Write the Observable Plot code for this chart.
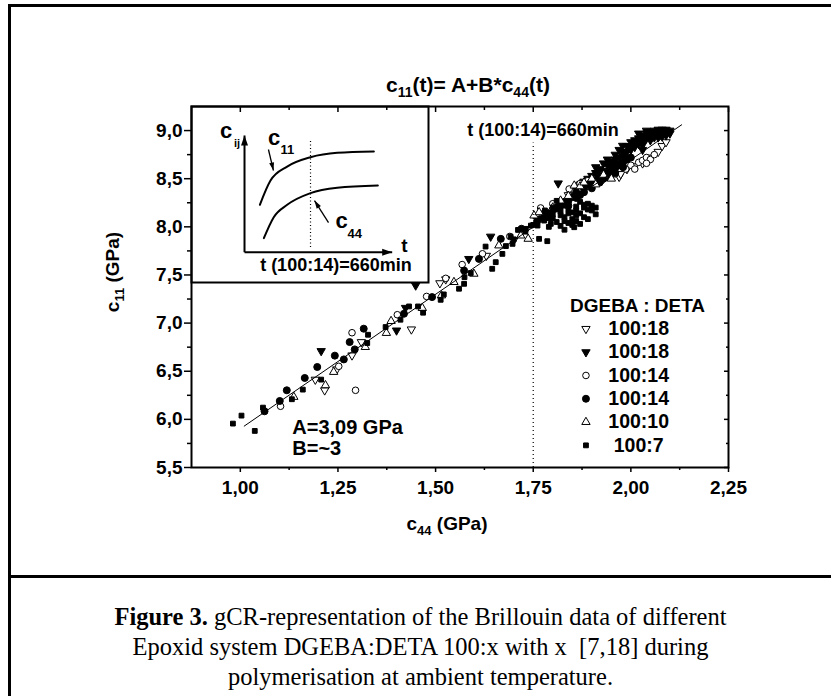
<!DOCTYPE html>
<html><head><meta charset="utf-8">
<script src="https://cdn.jsdelivr.net/npm/d3@7"></script>
<script src="https://cdn.jsdelivr.net/npm/@observablehq/plot@0.6"></script>
<style>
html,body{margin:0;padding:0;background:#fff;}
#wrap{position:relative;width:831px;height:696px;overflow:hidden;background:#fff;}
#chart{position:absolute;left:0;top:0;}
.bl{position:absolute;background:#000;}
#caption{position:absolute;left:10px;width:821px;top:602px;text-align:center;font-family:"Liberation Serif","Times New Roman",serif;font-size:24.5px;line-height:30px;color:#000;}
</style></head><body>
<div id="wrap"><div id="chart"></div>
<div class="bl" style="left:8px;top:4px;width:3px;height:700px"></div>
<div class="bl" style="left:8px;top:4px;width:830px;height:3px"></div>
<div class="bl" style="left:8px;top:575px;width:830px;height:3px"></div>
<div id="caption"><b>Figure 3.</b> gCR-representation of the Brillouin data of different<br>Epoxid system DGEBA:DETA 100:x with x&nbsp; [7,18] during<br>polymerisation at ambient temperature.</div>
</div>
<script>
// ---------- data ----------
// 100:18 open down-triangles
const c44_18o = [1.192,1.216,1.247,1.286,1.310,1.438,1.511,1.526,1.63,1.70,1.76,1.81,1.84,1.87,1.90,1.93,1.95,1.97,1.974,1.99,2.01,2.03,2.05,2.07,2.08,2.09];
const c11_18o = [6.413,6.302,6.520,6.665,6.803,6.935,7.415,7.455,7.70,7.86,8.08,8.22,8.33,8.40,8.46,8.50,8.55,8.52,8.549,8.60,8.63,8.66,8.72,8.78,8.84,8.88];
// 100:18 filled down-triangles
const c44_18f = [1.207,1.400,1.423,1.449,1.585,1.641,1.814,1.86,1.88,1.90,1.91,1.92,1.93,1.94,1.95,1.95,1.96,1.97,1.979,1.98,1.99,2.00,2.00,2.01,2.02,2.02,2.03,2.03,2.04,2.04,2.05,2.05,2.06,2.06,2.07,2.07,2.08,2.08,2.09,2.09,2.10,2.10,2.07,2.05,2.03,2.01,1.99,1.91,1.94,1.96,1.97,1.98,2.00,2.01,2.02,2.04,2.06,2.08,2.09,2.03,1.99,1.96,1.93,1.89,1.87];
const c11_18f = [6.710,6.924,7.159,7.391,7.667,7.899,8.452,8.40,8.47,8.53,8.56,8.60,8.58,8.64,8.62,8.68,8.66,8.72,8.843,8.74,8.78,8.80,8.88,8.83,8.86,8.92,8.89,8.95,8.92,8.97,8.94,8.99,8.96,9.00,8.97,9.01,8.98,9.01,8.99,8.95,9.00,8.97,8.93,8.90,8.85,8.87,8.84,8.62,8.70,8.75,8.80,8.78,8.84,8.90,8.97,9.00,8.93,8.94,9.01,8.80,8.72,8.70,8.66,8.50,8.44];
// 100:14 open circles
const c44_14o = [1.103,1.252,1.286,1.295,1.402,1.477,1.526,1.568,1.62,1.69,1.769,1.80,1.842,1.87,1.89,1.92,1.94,1.96,1.98,1.987,2.00,2.01,2.02,2.03,2.04,2.05,2.06,2.04];
const c11_14o = [6.136,6.551,6.900,6.302,7.087,7.277,7.465,7.608,7.72,7.90,8.196,8.24,8.393,8.45,8.48,8.52,8.56,8.55,8.62,8.60,8.64,8.60,8.67,8.69,8.72,8.70,8.75,8.66];
// 100:14 filled circles
const c44_14f = [1.062,1.101,1.119,1.165,1.197,1.242,1.265,1.280,1.293,1.316,1.419,1.491,1.573,1.611,1.667,1.72,1.76,1.79,1.81,1.83,1.85,1.86,1.88,1.89,1.91,1.92,1.94,1.95,1.96,1.97,1.98,1.99,2.00,1.93,1.90,1.87,1.84,1.78,1.80,1.82,1.84,1.86,1.88,1.90,1.92,1.94,1.96,1.98];
const c11_14f = [6.084,6.191,6.302,6.430,6.544,6.662,6.623,6.803,6.727,6.942,7.097,7.270,7.546,7.667,7.875,7.98,8.06,8.14,8.20,8.26,8.31,8.36,8.40,8.44,8.48,8.52,8.56,8.58,8.61,8.64,8.67,8.70,8.72,8.50,8.45,8.33,8.22,8.12,8.18,8.22,8.27,8.30,8.36,8.40,8.46,8.52,8.56,8.62];
// 100:10 open triangles
const c44_10 = [1.137,1.218,1.239,1.320,1.374,1.386,1.466,1.515,1.547,1.598,1.662,1.718,1.737,1.752,1.765,1.80,1.820,1.84,1.855,1.87,1.88,1.90,1.91,1.93,1.95];
const c11_10 = [6.233,6.354,6.492,6.751,6.897,7.021,7.156,7.287,7.426,7.512,7.806,7.909,7.875,8.117,8.151,8.20,8.272,8.32,8.428,8.42,8.46,8.50,8.44,8.54,8.50];
// 100:7 filled squares
const c44_7 = [0.981,1.003,1.037,1.058,1.132,1.160,1.207,1.325,1.327,1.372,1.410,1.432,1.455,1.468,1.513,1.521,1.560,1.573,1.574,1.590,1.628,1.645,1.654,1.671,1.692,1.697,1.711,1.731,1.744,1.761,1.765,1.786,1.778,1.795,1.855,1.79,1.80,1.81,1.82,1.83,1.84,1.85,1.86,1.87,1.88,1.89,1.80,1.82,1.84,1.86,1.87,1.83,1.81,1.85,1.78,1.88,1.90,1.79,1.76,1.83,1.89,1.91,1.86,1.80,1.82,1.84,1.86,1.88,1.90,1.91,1.89,1.87,1.85,1.83,1.81,1.79,1.77,1.75,1.73,1.70,1.68];
const c11_7 = [5.956,6.039,5.880,6.122,6.209,6.309,6.413,6.793,6.879,6.959,7.035,7.173,7.173,7.108,7.242,7.298,7.357,7.408,7.477,7.52,7.795,7.564,7.633,7.719,7.899,7.823,7.968,7.979,8.013,8.013,7.875,7.851,8.065,8.031,7.996,8.09,8.13,8.05,8.16,8.10,8.19,8.08,8.21,8.14,8.23,8.18,8.20,8.01,8.04,8.06,8.26,8.22,8.27,8.15,8.17,8.10,8.17,8.00,8.05,7.97,8.24,8.20,8.12,8.09,8.12,8.14,8.17,8.20,8.22,8.13,8.08,8.03,8.02,8.06,8.18,8.13,8.09,8.02,7.95,7.87,7.80];

const seriesNames = ["100:18","100:18","100:14","100:14","100:10","100:7"];
const legendTitle = "DGEBA : DETA";
const xTicks = [1.00,1.25,1.50,1.75,2.00,2.25];
const xMinor = [1.125,1.375,1.625,1.875,2.125];
const yTicks = [5.5,6.0,6.5,7.0,7.5,8.0,8.5,9.0];
const yMinor = [5.75,6.25,6.75,7.25,7.75,8.25,8.75];
// fitted line c11 = A + B*c44 (end points)
const fitC44 = [1.01, 2.13];
const fitC11 = [5.93, 9.06];
// t(100:14)=660 min marker
const markC44 = 1.75;
const markC11 = [5.5, 8.87];
// inset schematic curves (arbitrary units)
const insetT11 = [1.04,1.76,2.89,4.47,6.28,8.76];
const insetC11 = [4.06,6.14,7.34,8.14,8.52,8.63];
const insetT44 = [1.31,1.98,2.89,4.47,6.28,9.03];
const insetC44 = [1.20,3.00,4.06,5.06,5.52,5.72];
const insetMarkT = 4.47;

// ---------- build ----------
const zip = (xs, ys) => xs.map((x, i) => ({c44: x, c11: ys[i]}));
const sqrt3 = Math.sqrt(3);
const triangleDown = {draw(ctx, size) {
  const y = -Math.sqrt(size / (sqrt3 * 3));
  ctx.moveTo(0, -y * 2); ctx.lineTo(-sqrt3 * y, y); ctx.lineTo(sqrt3 * y, y); ctx.closePath();
}};
// filled arrow head with the tip at the anchor point, pointing at angle a (deg, screen)
const head = (a, L, W) => ({draw(ctx) {
  const r = a * Math.PI / 180, c = Math.cos(r), s = Math.sin(r);
  const p = (x, y) => [x * c - y * s, x * s + y * c];
  const b1 = p(-L, -W / 2), b2 = p(-L, W / 2);
  ctx.moveTo(0, 0); ctx.lineTo(b1[0], b1[1]); ctx.lineTo(b2[0], b2[1]); ctx.closePath();
}});
const styles = [
  {symbol: triangleDown, fill: "white", stroke: "black", r: 3.1},
  {symbol: triangleDown, fill: "black", stroke: "black", r: 3.1},
  {symbol: "circle", fill: "white", stroke: "black", r: 3.3},
  {symbol: "circle", fill: "black", stroke: "black", r: 3.5},
  {symbol: "triangle", fill: "white", stroke: "black", r: 3.1},
  {symbol: "square", fill: "black", stroke: "black", r: 2.7}
];
const series = [zip(c44_18o,c11_18o), zip(c44_18f,c11_18f), zip(c44_14o,c11_14o), zip(c44_14f,c11_14f), zip(c44_10,c11_10), zip(c44_7,c11_7)];
const legendX = 1.885, legendTextX = 2.02, legendTop = 6.94, legendStep = 0.242;
const legendRows = seriesNames.map((n, i) => ({name: n, i, c11: legendTop - i * legendStep}));

const fmtX = d => d.toFixed(2).replace(".", ",");
const fmtY = d => d.toFixed(1).replace(".", ",");
const bold = {fontWeight: "bold"};

const marks = [];
series.forEach((s, i) => marks.push(Plot.dot(s, {x: "c44", y: "c11", ...styles[i], strokeWidth: 1})));
marks.push(Plot.line(zip(fitC44, fitC11), {x: "c44", y: "c11", stroke: "black", strokeWidth: 1}));
marks.push(Plot.ruleX([markC44], {x: d => d, y1: markC11[0], y2: markC11[1], stroke: "black", strokeDasharray: "1,3", strokeWidth: 1.2}));
marks.push(Plot.text(["t (100:14)=660min"], {x: 1.581, y: 9.007, textAnchor: "start", fontSize: 18, ...bold}));
marks.push(Plot.text(["A=3,09 GPa"], {x: 1.133, y: 5.919, textAnchor: "start", fontSize: 20, ...bold}));
marks.push(Plot.text(["B=~3"], {x: 1.133, y: 5.694, textAnchor: "start", fontSize: 20, ...bold}));
marks.push(Plot.text([legendTitle], {x: 2.017, y: 7.18, fontSize: 19, ...bold}));
legendRows.forEach(r => marks.push(Plot.dot([r], {x: () => legendX, y: "c11", ...styles[r.i], strokeWidth: 1})));
marks.push(Plot.text(legendRows, {x: () => legendTextX, y: "c11", text: "name", fontSize: 19.5, ...bold}));
marks.push(Plot.frame({stroke: "black", strokeWidth: 2}));
marks.push(Plot.axisX(xTicks, {anchor: "bottom", tickSize: 5, tickPadding: 8, tickFormat: fmtX, fontSize: 19, ...bold, strokeWidth: 1.5, label: null}));
marks.push(Plot.axisX(xMinor, {anchor: "bottom", tickSize: 3, text: null, strokeWidth: 1.5, label: null}));
marks.push(Plot.axisX(xTicks, {anchor: "top", tickSize: 5, dy: 5, text: null, strokeWidth: 1.5, label: null}));
marks.push(Plot.axisX(xMinor, {anchor: "top", tickSize: 3, dy: 3, text: null, strokeWidth: 1.5, label: null}));
marks.push(Plot.axisY(yTicks, {anchor: "left", tickSize: 7, tickPadding: 2, tickFormat: fmtY, fontSize: 19, ...bold, strokeWidth: 1.5, label: null}));
marks.push(Plot.axisY(yMinor, {anchor: "left", tickSize: 4, text: null, strokeWidth: 1.5, label: null}));
marks.push(Plot.axisY(yTicks, {anchor: "right", tickSize: 5, dx: -5, text: null, strokeWidth: 1.5, label: null}));
marks.push(Plot.axisY(yMinor, {anchor: "right", tickSize: 3, dx: -3, text: null, strokeWidth: 1.5, label: null}));

const main = Plot.plot({
  width: 831, height: 577,
  marginLeft: 191, marginRight: 103, marginTop: 106, marginBottom: 110,
  x: {domain: [0.875, 2.25], axis: null},
  y: {domain: [5.5, 9.25], axis: null},
  style: {fontFamily: "'Liberation Sans', Arial, sans-serif", background: "transparent", color: "black", overflow: "visible"},
  marks
});

// inset
const axisArrows = [{x1: 0, y1: 0, x2: 0, y2: 10, a: -90}, {x1: 0, y1: 0, x2: 10, y2: 0, a: 0}];
const labelArrows = [{x1: 1.62, y1: 8.80, x2: 1.96, y2: 7.00, a: 76.6}, {x1: 5.69, y1: 2.54, x2: 4.74, y2: 4.42, a: -122.5}];
const insetMarks = [
  Plot.frame({fill: "white", stroke: "black", strokeWidth: 2}),
  Plot.ruleX([insetMarkT], {x: d => d, y1: 0.4, y2: 9.57, stroke: "black", strokeDasharray: "1,2.5", strokeWidth: 1.2}),
  Plot.line(insetT11.map((t, i) => ({t, c: insetC11[i]})), {x: "t", y: "c", curve: "monotone-x", stroke: "black", strokeWidth: 2}),
  Plot.line(insetT44.map((t, i) => ({t, c: insetC44[i]})), {x: "t", y: "c", curve: "monotone-x", stroke: "black", strokeWidth: 2}),
  Plot.link(axisArrows, {x1: "x1", y1: "y1", x2: "x2", y2: "y2", stroke: "black", strokeWidth: 2}),
  Plot.link(labelArrows, {x1: "x1", y1: "y1", x2: "x2", y2: "y2", stroke: "black", strokeWidth: 1.3}),
  ...axisArrows.map(d => Plot.dot([d], {x: "x2", y: "y2", symbol: head(d.a, 10, 7), fill: "black", stroke: "none"})),
  ...labelArrows.map(d => Plot.dot([d], {x: "x2", y: "y2", symbol: head(d.a, 8, 5), fill: "black", stroke: "none"})),
  Plot.text(["c"], {x: -1.25, y: 10.43, fontSize: 22, ...bold}),
  Plot.text(["ij"], {x: -0.72, y: 9.35, textAnchor: "start", fontSize: 11, ...bold}),
  Plot.text(["c"], {x: 2.0, y: 9.75, fontSize: 22, ...bold}),
  Plot.text(["11"], {x: 2.44, y: 8.79, textAnchor: "start", fontSize: 13, ...bold}),
  Plot.text(["c"], {x: 6.57, y: 2.64, fontSize: 22, ...bold}),
  Plot.text(["44"], {x: 6.97, y: 1.59, textAnchor: "start", fontSize: 13, ...bold}),
  Plot.text(["t"], {x: 10.83, y: 0.5, fontSize: 19, ...bold}),
  Plot.text(["t (100:14)=660min"], {x: 6.19, y: -1.12, fontSize: 18, ...bold})
];
const inset = Plot.plot({
  width: 237, height: 176, margin: 0,
  x: {domain: [-3.59, 12.46], axis: null},
  y: {domain: [-2.596, 12.485], axis: null},
  style: {fontFamily: "'Liberation Sans', Arial, sans-serif", background: "transparent", color: "black", overflow: "visible"},
  marks: insetMarks
});
inset.setAttribute("x", 191);
inset.setAttribute("y", 106);
inset.style.width = "237px"; inset.style.height = "176px"; inset.style.maxWidth = "none"; inset.style.overflow = "visible";
const frameNode = main.querySelector('[aria-label="frame"]');
main.insertBefore(inset, frameNode);

// title and axis labels with subscripts
const svg = d3.select(main);
function subText(sel, parts, fs) {
  let prevSub = false;
  parts.forEach(([t, sub]) => {
    const ts = sel.append("tspan").text(t);
    if (sub) { ts.attr("font-size", fs).attr("dy", 5); prevSub = true; }
    else if (prevSub) { ts.attr("dy", -5); prevSub = false; }
  });
}
const title = svg.append("text").attr("x", 468).attr("y", 92).attr("text-anchor", "middle").attr("font-size", 21).attr("font-weight", "bold");
subText(title, [["c"], ["11", 1], ["(t)= A+B*c"], ["44", 1], ["(t)"]], 14);
const xl = svg.append("text").attr("x", 447).attr("y", 530).attr("text-anchor", "middle").attr("font-size", 19).attr("font-weight", "bold");
subText(xl, [["c"], ["44", 1], [" (GPa)"]], 13);
const yl = svg.append("text").attr("transform", "translate(119,272) rotate(-90)").attr("text-anchor", "middle").attr("font-size", 19).attr("font-weight", "bold");
subText(yl, [["c"], ["11", 1], [" (GPa)"]], 13);

document.getElementById("chart").appendChild(main);
</script>
</body></html>
